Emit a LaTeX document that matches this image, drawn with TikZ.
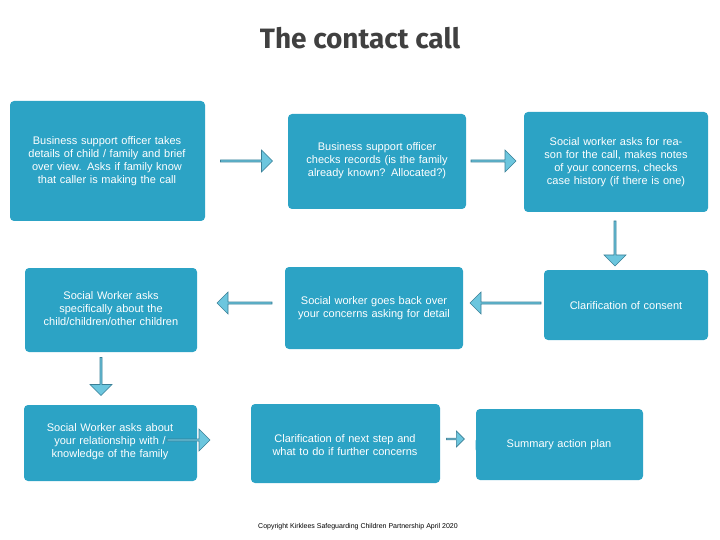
\documentclass[tikz,border=0pt]{standalone}
\usepackage{fontspec}
\setmainfont{Liberation Sans}
\newfontfamily\titlefont{Fira Sans}
\usetikzlibrary{shapes.arrows}
\definecolor{boxc}{HTML}{2CA3C5}
\definecolor{arrc}{HTML}{6CC6DE}
\definecolor{arre}{HTML}{3A7F96}
\begin{document}
\begin{tikzpicture}[x=1pt,y=-1pt,
  box/.style={fill=boxc,rounded corners=4pt,text=white,align=center,font=\fontsize{11}{13}\selectfont},
  barrow/.style={single arrow,fill=arrc,draw=arre,line width=0.6pt,minimum height=#1,minimum width=22pt,single arrow head extend=3pt,inner sep=0pt}]
\useasboundingbox (0,0) rectangle (720,540);
\node[font=\titlefont\bfseries\fontsize{28}{32}\selectfont,text=black!75] (title) at (360,38) {The contact call};
\fill[boxc,rounded corners=4pt] (10,101) rectangle (205,221);
\node[box,text width=185pt] (b1) at (107,161) {Business support officer takes details of child / family and brief over view. Asks if family know that caller is making the call};
\fill[boxc,rounded corners=4pt] (288,114) rectangle (466,209);
\node[box,text width=165pt] (b2) at (377,161) {Business support officer checks records (is the family already known? Allocated?)};
\fill[boxc,rounded corners=4pt] (524,112) rectangle (708,212);
\node[box,text width=170pt] (b3) at (616,162) {Social worker asks for reason for the call, makes notes of your concerns, checks case history (if there is one)};
\fill[boxc,rounded corners=4pt] (25,268) rectangle (197,352);
\node[box,text width=160pt] (b4) at (111,309) {Social Worker asks specifically about the child/children/other children};
\fill[boxc,rounded corners=4pt] (285,267) rectangle (463,349);
\node[box,text width=160pt] (b5) at (374,308) {Social worker goes back over your concerns asking for detail};
\fill[boxc,rounded corners=4pt] (544,270) rectangle (708,340);
\node[box,text width=150pt] (b6) at (626,306) {Clarification of consent};
\fill[boxc,rounded corners=4pt] (24,405) rectangle (197,481);
\node[box,text width=165pt] (b7) at (110,442) {Social Worker asks about your relationship with / knowledge of the family};
\fill[boxc,rounded corners=4pt] (251,404) rectangle (440,483);
\node[box,text width=175pt] (b8) at (345,445) {Clarification of next step and what to do if further concerns};
\fill[boxc,rounded corners=4pt] (476,409) rectangle (643,480);
\node[box,text width=160pt] (b9) at (559,445) {Summary action plan};
\node[barrow=52pt] (a1) at (246,161) {};
\node[barrow=45pt] (a2) at (493,161) {};
\node[barrow=45pt,rotate=-90] (a3) at (615,243) {};
\node[barrow=71pt,rotate=180] (a4) at (506,303) {};
\node[barrow=55pt,rotate=180] (a5) at (245,303) {};
\node[barrow=38pt,rotate=-90] (a6) at (101,376) {};
\node[barrow=43pt] (a7) at (188,440) {};
\node[barrow=18pt,minimum width=16pt] (a8) at (455,439) {};
\node[font=\fontsize{7}{8}\selectfont] (copy) at (358,527) {Copyright Kirklees Safeguarding Children Partnership April 2020};
\end{tikzpicture}
\end{document}
